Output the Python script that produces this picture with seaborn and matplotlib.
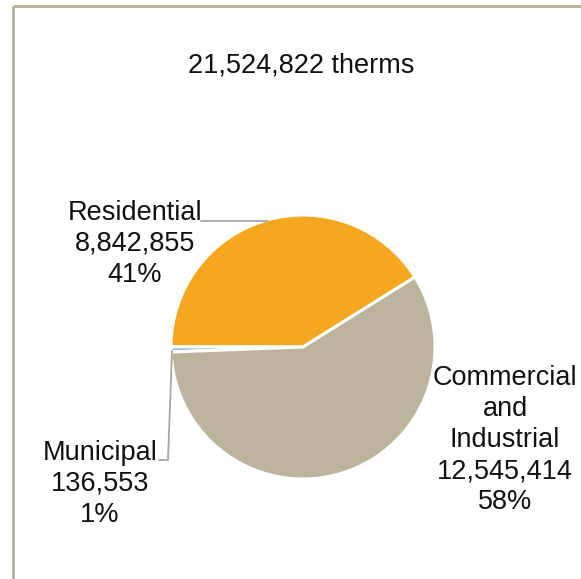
import matplotlib
matplotlib.use("Agg")
import matplotlib.pyplot as plt
import seaborn as sns

# Natural gas use by sector (therms)
sectors = ["Residential", "Municipal", "Commercial\nand\nIndustrial"]
therms = [8842855, 136553, 12545414]
percent_labels = ["41%", "1%", "58%"]
total_therms = 21524822

sns.set_theme(style="white")
plt.rcParams["font.family"] = ["Liberation Sans", "DejaVu Sans"]
palette = sns.color_palette(["#F5A81F", "#AEB4D2", "#BCB39C"])

W, H = 581, 579
fig = plt.figure(figsize=(W / 100, H / 100), dpi=100)
ax = fig.add_axes([0, 0, 1, 1])


def py(y):
    # convert a top-down pixel row into the axes' bottom-up coordinate
    return H - y


center = (303, py(347))
radius = 132
ax.pie(therms, colors=palette, startangle=32, counterclock=True,
       center=center, radius=radius, frame=True,
       wedgeprops=dict(edgecolor="white", linewidth=2.2))
ax.set_xlim(0, W)
ax.set_ylim(0, H)
ax.set_aspect("equal")
ax.axis("off")

# outer frame (continues past the right and bottom edges)
frame_col = "#B6AF9B"
ax.plot([12.5, 12.5], [py(6), py(H + 5)], color=frame_col, lw=2.0, solid_capstyle="butt")
ax.plot([12.5, W + 5], [py(6), py(6)], color=frame_col, lw=2.0, solid_capstyle="butt")

fs = 19.5
ax.text(301, py(65), f"{total_therms:,} therms", ha="center", va="center", fontsize=fs, color="#111111")

label_pos = [(135, 244), (100, 484), (505, 440)]
for name, val, pct, (x, y) in zip(sectors, therms, percent_labels, label_pos):
    ax.text(x, py(y), f"{name}\n{val:,}\n{pct}", ha="center", va="center",
            fontsize=fs, linespacing=1.26, color="#111111")

# leader lines
lead = "#A6A6A6"
ax.plot([201, 268], [py(221), py(221)], color=lead, lw=1.3)
ax.plot([172, 168, 159], [py(351), py(460), py(460)], color=lead, lw=1.3)

fig.savefig("out.png", dpi=100, facecolor="white")
